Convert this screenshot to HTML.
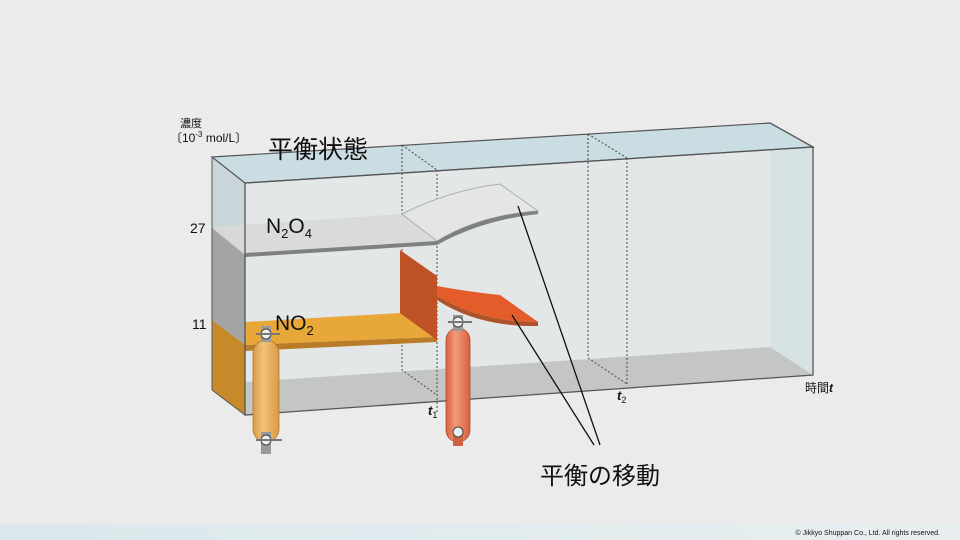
<!DOCTYPE html>
<html><head><meta charset="utf-8"><style>
body{margin:0;width:960px;height:540px;overflow:hidden;background:#ebebeb;}
svg{display:block}
text{font-family:"Liberation Sans","Noto Sans CJK JP",sans-serif;fill:#111}
</style></head><body>
<svg width="960" height="540" viewBox="0 0 960 540">
<defs>
<linearGradient id="bot" x1="0" x2="1"><stop offset="0" stop-color="#dce8ec"/><stop offset="1" stop-color="#e8eef0"/></linearGradient>
<linearGradient id="t1g" x1="0" x2="1"><stop offset="0" stop-color="#d99a45"/><stop offset=".4" stop-color="#f2c27a"/><stop offset="1" stop-color="#d99a45"/></linearGradient>
<linearGradient id="t2g" x1="0" x2="1"><stop offset="0" stop-color="#d8603f"/><stop offset=".4" stop-color="#f59a78"/><stop offset="1" stop-color="#d8603f"/></linearGradient>
</defs>
<rect x="0" y="524" width="960" height="16" fill="url(#bot)"/>
<text x="940" y="535" font-size="7" text-anchor="end" fill="#555">© Jikkyo Shuppan Co., Ltd. All rights reserved.</text>

<polygon points="212,157 770,123 770,347 212,390" fill="#e3e7e8"/>
<polygon points="770,123 813,147 813,375 770,347" fill="#d6e1e4"/>
<polygon points="245,382 770,347 813,375 245,415" fill="#c2c2c2"/>
<polygon points="212,157 245,183 245,255 212,228" fill="#c9d5d9"/>
<polygon points="212,228 245,255 245,345 212,320" fill="#a4a4a4"/>
<polygon points="212,320 245,345 245,415 212,390" fill="#c7892a"/>
<polygon points="212,157 770,123 813,147 245,183" fill="#c9dde3" stroke="#555" stroke-width="1.2"/>

<g stroke="#444" stroke-width="1" stroke-dasharray="2,2" fill="none">
<polyline points="402,145 402,370 437,395"/>
<line x1="402" y1="145" x2="437" y2="170"/><line x1="437" y1="170" x2="437" y2="412"/>
<polyline points="588,134 588,358 627,384"/>
<line x1="588" y1="134" x2="627" y2="158"/><line x1="627" y1="158" x2="627" y2="386"/>
</g>

<polygon points="212,227 402,214 437,241 245,253" fill="#d8d8d8"/>
<path d="M402,214 Q450,190 500,184 L538,211 Q480,215 437,241 Z" fill="#e4e4e4" stroke="#aaa" stroke-width="1"/>
<path d="M245,253 L437,241 Q480,215 538,211 L538,214 Q482,220 437,245 L245,257 Z" fill="#777"/>

<polygon points="245,322 400,313 437,337 245,345" fill="#e8a22a"/>
<polygon points="245,345 437,337 437,342 245,351" fill="#b8721a"/>
<polygon points="400,250 437,276 437,340 400,313" fill="#bb4414"/>
<path d="M437,286 Q470,292 500,295 L538,322 Q480,322 437,296 Z" fill="#e4501a"/>
<path d="M437,296 Q480,322 538,322 L538,326 Q478,327 437,300 Z" fill="#a8461a"/>

<polygon points="245,183 813,147 813,375 245,415" fill="#e8f0f2" fill-opacity="0.08" stroke="#555" stroke-width="1.3"/>
<line x1="212" y1="157" x2="212" y2="390" stroke="#555" stroke-width="1"/>
<line x1="212" y1="390" x2="245" y2="415" stroke="#555" stroke-width="1"/>
<line x1="770" y1="123" x2="813" y2="147" stroke="#555" stroke-width="1.2"/>

<g>
<rect x="253" y="340" width="26" height="102" rx="13" fill="url(#t1g)" stroke="#b07a30" stroke-width="0.8"/>
<rect x="261" y="326" width="10" height="16" fill="#999"/><circle cx="266" cy="334" r="5" fill="#eee" stroke="#444"/>
<line x1="256" y1="334" x2="280" y2="334" stroke="#777" stroke-width="2"/>
<rect x="261" y="432" width="10" height="22" fill="#999"/><circle cx="266" cy="440" r="5" fill="#eee" stroke="#444"/>
<line x1="256" y1="440" x2="282" y2="440" stroke="#777" stroke-width="2"/>
</g>
<g>
<rect x="446" y="328" width="24" height="114" rx="12" fill="url(#t2g)" stroke="#b04a30" stroke-width="0.8"/>
<rect x="453" y="315" width="10" height="16" fill="#999"/><circle cx="458" cy="322" r="5" fill="#eee" stroke="#444"/>
<line x1="448" y1="322" x2="472" y2="322" stroke="#777" stroke-width="2"/>
<rect x="453" y="430" width="10" height="16" fill="#d06040"/><circle cx="458" cy="432" r="5" fill="#eee" stroke="#444"/>
</g>

<line x1="518" y1="206" x2="600" y2="445" stroke="#111" stroke-width="1.3"/>
<line x1="512" y1="315" x2="594" y2="445" stroke="#111" stroke-width="1.3"/>

<text x="180" y="127" font-size="11">濃度</text>
<text x="170" y="142" font-size="12">〔10<tspan font-size="8" dy="-5">-3</tspan><tspan dy="5"> mol/L〕</tspan></text>
<text x="268" y="158" font-size="25">平衡状態</text>
<text x="190" y="233" font-size="14">27</text>
<text x="192" y="329" font-size="14">11</text>
<text x="266" y="233" font-size="21">N<tspan font-size="13" dy="5">2</tspan><tspan dy="-5">O</tspan><tspan font-size="13" dy="5">4</tspan></text>
<text x="275" y="330" font-size="21">NO<tspan font-size="13" dy="5">2</tspan></text>
<text x="428" y="415" font-size="13" font-style="italic" font-weight="bold">t<tspan font-size="9" font-style="normal" font-weight="normal" dy="3">1</tspan></text>
<text x="617" y="400" font-size="13" font-style="italic" font-weight="bold">t<tspan font-size="9" font-style="normal" font-weight="normal" dy="3">2</tspan></text>
<text x="805" y="392" font-size="12">時間<tspan font-style="italic" font-weight="bold">t</tspan></text>
<text x="540" y="484" font-size="24">平衡の移動</text>
</svg>
</body></html>
